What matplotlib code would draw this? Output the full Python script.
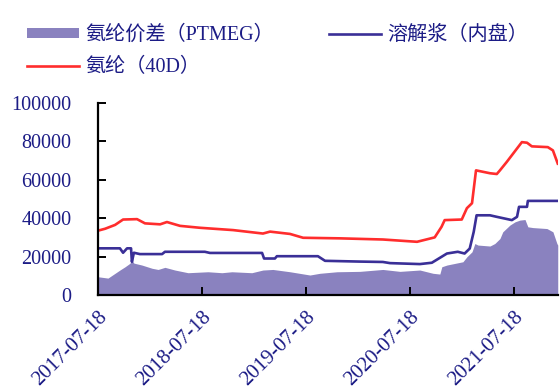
import matplotlib
matplotlib.use("Agg")
import matplotlib.pyplot as plt
import pandas as pd

plt.rcParams['font.family'] = ['Liberation Serif', 'Noto Sans CJK SC', 'DejaVu Sans']

# 氨纶价差（PTMEG）
spread_dates = ["2017-07-18", "2017-08-22", "2017-09-16", "2017-10-03", "2017-10-21",
                "2017-11-07", "2017-11-14", "2017-11-21", "2017-12-19", "2018-01-24",
                "2018-02-14", "2018-03-10", "2018-04-14", "2018-05-30", "2018-08-08",
                "2018-09-26", "2018-10-31", "2019-01-09", "2019-02-17", "2019-03-24",
                "2019-05-23", "2019-08-01", "2019-09-05", "2019-11-04", "2020-01-23",
                "2020-04-13", "2020-06-12", "2020-08-21", "2020-10-06", "2020-10-30",
                "2020-11-06", "2020-11-24", "2021-01-19", "2021-02-02", "2021-02-20",
                "2021-03-02", "2021-03-13", "2021-04-24", "2021-05-11", "2021-05-29",
                "2021-06-08", "2021-07-03", "2021-07-21", "2021-08-07", "2021-08-25",
                "2021-09-04", "2021-09-22", "2021-11-10", "2021-12-01", "2021-12-15",
                "2021-12-18"]
spread_values = [9500, 8800, 11300, 13000, 14700,
                 16500, 18200, 16600, 15600, 13900,
                 13300, 14400, 13000, 11600, 12100,
                 11600, 12100, 11600, 13000, 13300,
                 12100, 10400, 11300, 12100, 12300,
                 13300, 12300, 13000, 11300, 10900,
                 14700, 15600, 17300, 19900, 22500,
                 26800, 26000, 25500, 26800, 29400,
                 32900, 36400, 38100, 39000, 39300,
                 35500, 35100, 34600, 32900, 26800,
                 26000]

# 溶解浆（内盘）
pulp_dates = ["2017-07-18", "2017-10-03", "2017-10-14", "2017-10-28", "2017-11-11",
              "2017-11-14", "2017-11-21", "2017-12-12", "2018-02-28", "2018-03-10",
              "2018-07-28", "2018-08-15", "2019-02-14", "2019-02-21", "2019-03-31",
              "2019-04-07", "2019-08-29", "2019-09-23", "2020-01-23", "2020-04-13",
              "2020-05-08", "2020-08-21", "2020-10-02", "2020-11-24", "2021-01-01",
              "2021-01-25", "2021-02-12", "2021-02-26", "2021-03-08", "2021-04-24",
              "2021-05-18", "2021-07-10", "2021-07-28", "2021-08-04", "2021-09-01",
              "2021-09-04", "2021-12-18"]
pulp_values = [24300, 24300, 22000, 24300, 24300,
               17300, 22000, 21300, 21300, 22500,
               22500, 21900, 21900, 19000, 19000,
               20200, 20200, 17800, 17400, 17200,
               16600, 16100, 16800, 21600, 22500,
               21600, 24200, 32900, 41500, 41500,
               40700, 39000, 40700, 45900, 45900,
               49000, 49000]

# 氨纶（40D）
spandex_dates = ["2017-07-18", "2017-08-12", "2017-09-16", "2017-10-14", "2017-12-02",
                 "2017-12-30", "2018-02-21", "2018-03-17", "2018-05-02", "2018-07-11",
                 "2018-11-04", "2019-02-17", "2019-03-14", "2019-05-23", "2019-07-08",
                 "2019-11-14", "2020-04-13", "2020-06-12", "2020-08-11", "2020-10-12",
                 "2020-11-05", "2020-11-16", "2021-01-15", "2021-02-02", "2021-02-20",
                 "2021-03-06", "2021-04-24", "2021-05-18", "2021-05-29", "2021-06-22",
                 "2021-08-14", "2021-09-01", "2021-09-18", "2021-11-13", "2021-12-01",
                 "2021-12-18"]
spandex_values = [33500, 34500, 36500, 39300, 39500,
                  37300, 36800, 38000, 36000, 35000,
                  33800, 32000, 33000, 31800, 29800,
                  29500, 28900, 28300, 27700, 30000,
                  35500, 39000, 39300, 45200, 47800,
                  64900, 63400, 63000, 64900, 69300,
                  79600, 79300, 77400, 77000, 75300,
                  68400]

tick_dates = ["2017-07-18", "2018-07-18", "2019-07-18", "2020-07-18", "2021-07-18"]
y_ticks = [0, 20000, 40000, 60000, 80000, 100000]

series_labels = ["氨纶价差（PTMEG）", "溶解浆（内盘）", "氨纶（40D）"]

text_color = "#1c1c86"
area_color = "#8a82bf"
pulp_color = "#3a2f97"
spandex_color = "#ff2d2d"

fig = plt.figure(figsize=(5.6, 3.9), dpi=100)
ax = fig.add_axes([0.175, 0.2436, 0.821, 0.4924])

sd = pd.to_datetime(spread_dates)
pdt = pd.to_datetime(pulp_dates)
xd = pd.to_datetime(spandex_dates)

h_area = ax.fill_between(sd, 0, spread_values, color=area_color, lw=0,
                         label=series_labels[0])
h_pulp, = ax.plot(pdt, pulp_values, color=pulp_color, lw=1.9,
                  label=series_labels[1])
h_spandex, = ax.plot(xd, spandex_values, color=spandex_color, lw=1.9,
                     label=series_labels[2])

ax.set_xlim(pd.Timestamp(tick_dates[0]), sd[-1])
ax.set_ylim(0, 100000)
ax.set_yticks(y_ticks)
ax.set_yticklabels([str(v) for v in y_ticks])
ax.set_xticks(pd.to_datetime(tick_dates))
ax.set_xticklabels(tick_dates, rotation=45, ha="right", rotation_mode="anchor")

for side in ("top", "right"):
    ax.spines[side].set_visible(False)
for side in ("left", "bottom"):
    ax.spines[side].set_linewidth(1.6)
    ax.spines[side].set_color("black")

ax.tick_params(axis="y", direction="in", length=6, width=1.4, pad=19,
               labelsize=14.5, labelcolor=text_color)
ax.tick_params(axis="x", direction="in", length=6, width=1.4, pad=9,
               labelsize=15, labelcolor=text_color)

fig.legend(handles=[h_area, h_spandex, h_pulp],
           labels=[series_labels[0], series_labels[2], series_labels[1]],
           ncol=2, loc="upper left", bbox_to_anchor=(0.034, 0.955),
           frameon=False, fontsize=14.5, labelcolor=text_color,
           handlelength=2.6, handleheight=0.4, handletextpad=0.3,
           columnspacing=2.7, labelspacing=0.62, borderaxespad=0)

fig.savefig("out.png", dpi=100)
